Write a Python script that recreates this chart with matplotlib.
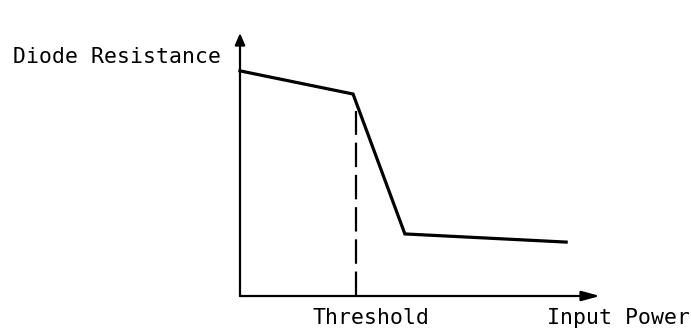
import matplotlib.pyplot as plt

# Schematic: diode resistance vs input power, with a threshold knee
power = [0.0, 3.14, 4.58, 9.06]
resistance = [8.56, 7.68, 2.36, 2.05]
threshold = 3.22
threshold_top = 7.05

plt.rcParams['font.family'] = ['DejaVu Sans Mono']

fig = plt.figure(figsize=(6.91, 3.36), dpi=100)
ax = fig.add_axes([240 / 691, 40 / 336, 360 / 691, 263 / 336])
ax.set_xlim(0, 10)
ax.set_ylim(0, 10)
ax.axis('off')

# axes drawn as arrows
ax.annotate('', xy=(10, 0), xytext=(0, 0), annotation_clip=False,
            arrowprops=dict(arrowstyle='-|>,head_length=1.1,head_width=0.3',
                            color='black', lw=1.6, shrinkA=0, shrinkB=0))
ax.annotate('', xy=(0, 10), xytext=(0, 0), annotation_clip=False,
            arrowprops=dict(arrowstyle='-|>,head_length=0.7,head_width=0.3',
                            color='black', lw=1.6, shrinkA=0, shrinkB=0))

ax.plot(power, resistance, color='black', lw=2.3, solid_joinstyle='miter',
        clip_on=False)
ax.plot([threshold, threshold], [0, threshold_top], color='black', lw=1.6,
        dashes=(11, 3.5), clip_on=False)

fig.text(221 / 691, 1 - 57 / 336, 'Diode Resistance', ha='right', va='center',
         fontsize=15.5)
fig.text(371 / 691, 1 - 318 / 336, 'Threshold', ha='center', va='center',
         fontsize=15.5)
fig.text(547 / 691, 1 - 318 / 336, 'Input Power', ha='left', va='center',
         fontsize=15.5)

fig.savefig('out.png', dpi=100, facecolor='white')
